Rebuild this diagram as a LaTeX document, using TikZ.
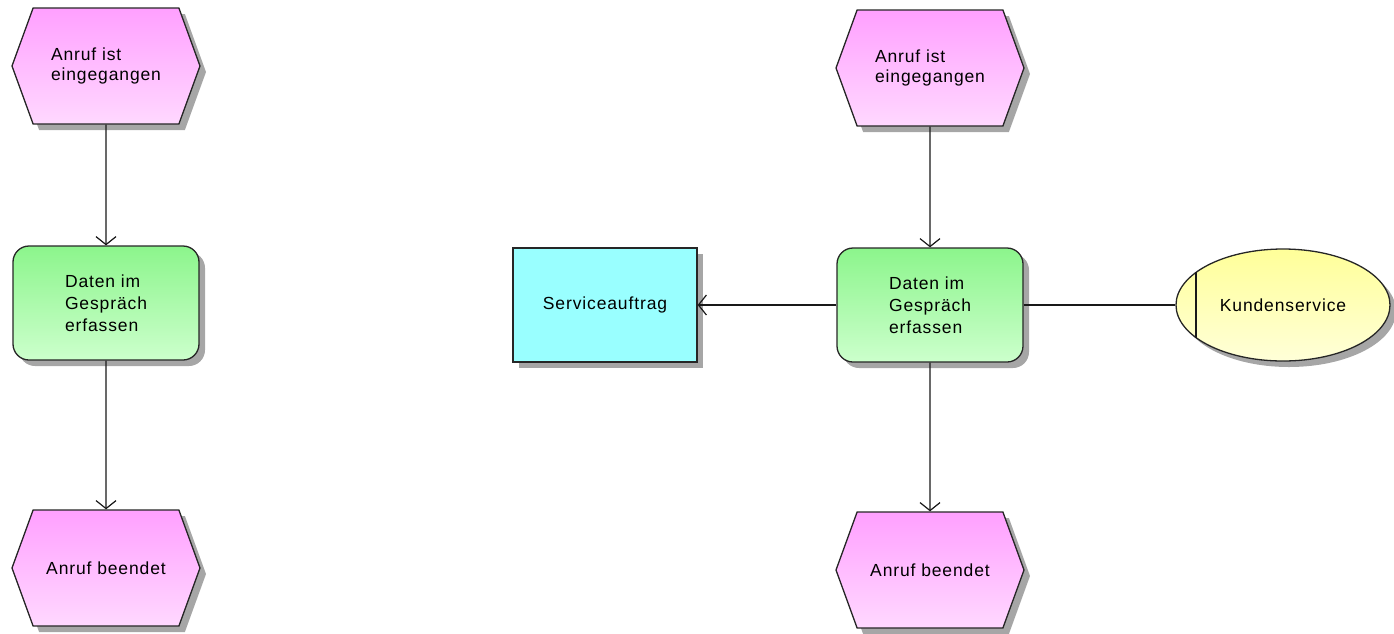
\documentclass[tikz,border=0pt]{standalone}
\usepackage{fontspec}
\newfontfamily\epkfont[LetterSpace=5]{Liberation Sans}
\usetikzlibrary{shapes,shapes.symbols,shadows,arrows.meta,positioning}
\definecolor{evtop}{HTML}{FFA0FF}
\definecolor{evbot}{HTML}{FFD8FF}
\definecolor{fntop}{HTML}{8CF58C}
\definecolor{fnbot}{HTML}{CCFFCC}
\definecolor{objfill}{HTML}{99FFFF}
\definecolor{orgtop}{HTML}{FFFF99}
\definecolor{orgbot}{HTML}{FFFFD8}
\tikzstyle{epk}=[draw=black!85, line width=1.3pt, align=left, inner sep=0pt, font=\epkfont\fontsize{17.5}{20}\selectfont, drop shadow={shadow xshift=6pt, shadow yshift=-6pt, fill=black!35, opacity=1}]
\tikzstyle{event}=[epk, signal, signal to=east and west, signal pointer angle=140, minimum width=188pt, minimum height=116pt, top color=evtop, bottom color=evbot]
\tikzstyle{function}=[epk, rectangle, rounded corners=16pt, minimum width=186pt, minimum height=114pt, top color=fntop, bottom color=fnbot, font=\epkfont\fontsize{17.5}{22}\selectfont]
\tikzstyle{infobj}=[epk, rectangle, minimum width=184pt, minimum height=114pt, fill=objfill]
\tikzstyle{orgunit}=[epk, ellipse, minimum width=214pt, minimum height=112pt, top color=orgtop, bottom color=orgbot]
\tikzstyle{conn}=[line width=1.2pt, black!90]
\tikzstyle{flow}=[conn, -{Straight Barb[length=8pt,width=20pt]}]

\begin{document}
\begin{tikzpicture}[x=1pt, y=-1pt]
\useasboundingbox (0,0) rectangle (1394,633);

%left chain
    \def\dx{106};
    \def\dy{0};

    \node[event] (ea) at (\dx, 66+\dy) {Anruf ist\\eingegangen};
    \node[function] (fa) at (\dx, 303+\dy) {Daten im\\Gespräch\\erfassen};
    \node[event] (eb) at (\dx, 568+\dy) {Anruf beendet};

  \foreach \source/ \dest in {ea/fa, fa/eb}
          \draw[flow] (\source) -- (\dest);


%right chain with object and org unit
    \def\dx{930};
    \def\dy{2};

    \node[event] (ec) at (\dx, 66+\dy) {Anruf ist\\eingegangen};
    \node[function] (fb) at (\dx, 303+\dy) {Daten im\\Gespräch\\erfassen};
    \node[event] (ed) at (\dx, 568+\dy) {Anruf beendet};
    \node[infobj] (auftrag) at (605, 303+\dy) {Serviceauftrag};
    \node[orgunit] (kunde) at (1283, 303+\dy) {Kundenservice};
    \draw[conn] (kunde.159) -- (kunde.201);

  \foreach \source/ \dest in {ec/fb, fb/ed, fb/auftrag}
          \draw[flow] (\source) -- (\dest);
  \draw[conn] (fb) -- (kunde);

   \end{tikzpicture}
\end{document}
